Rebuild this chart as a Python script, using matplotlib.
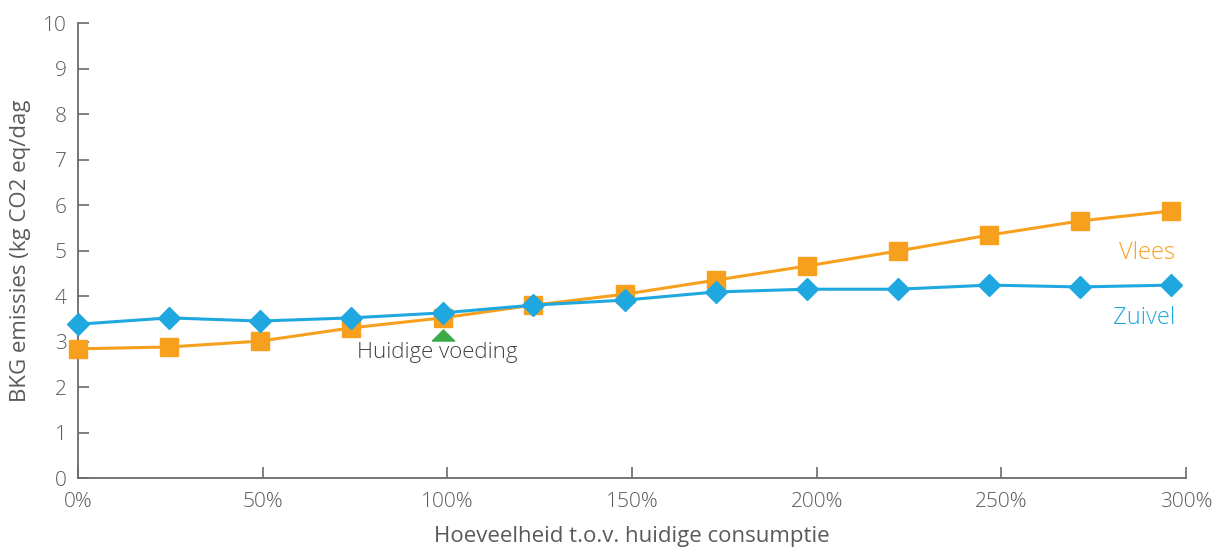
import numpy as np
import matplotlib
matplotlib.use("Agg")
import matplotlib.pyplot as plt

plt.rcParams['font.family'] = ['Open Sans', 'DejaVu Sans']
plt.rcParams['font.weight'] = 'light'

# hoeveelheid t.o.v. huidige consumptie (%)
hoeveelheid = [0, 24.7, 49.3, 74, 98.7, 123.3, 148, 172.7, 197.3, 222, 246.7, 271.3, 296]
vlees = [2.84, 2.88, 3.01, 3.30, 3.52, 3.80, 4.04, 4.35, 4.66, 4.99, 5.34, 5.65, 5.87]
zuivel = [3.38, 3.52, 3.45, 3.52, 3.63, 3.80, 3.91, 4.09, 4.15, 4.15, 4.24, 4.20, 4.24]
huidig_x = 98.7
huidig_y = 3.14

x_ticks = [0, 50, 100, 150, 200, 250, 300]
x_labels = ['0%', '50%', '100%', '150%', '200%', '250%', '300%']
y_ticks = list(range(11))

oranje = '#F7A01E'
blauw = '#1FA8E0'
grijs = '#5a5a5a'

# platte driehoek voor de huidige voeding
driehoek = [(-1, -0.5), (1, -0.5), (0, 0.5), (-1, -0.5)]

fig = plt.figure(figsize=(12.17, 5.49), dpi=100)
ax = fig.add_axes([0.0641, 0.1293, 0.9105, 0.8287])

ax.plot(hoeveelheid, vlees, color=oranje, lw=2.2, marker='s', ms=12.5,
        clip_on=False, zorder=3)
ax.plot(hoeveelheid, zuivel, color=blauw, lw=2.2, marker='D', ms=11,
        clip_on=False, zorder=4)
ax.plot([huidig_x], [huidig_y], marker=driehoek, ms=16, color='#3DAA48',
        ls='none', zorder=2)

ax.text(huidig_x - 1.5, huidig_y - 0.14, 'Huidige voeding', ha='center', va='top',
        fontsize=16, color='#444444')
ax.text(297, 5.22, 'Vlees', ha='right', va='top', fontsize=17, color=oranje)
ax.text(297, 3.78, 'Zuivel', ha='right', va='top', fontsize=17, color=blauw)

ax.set_xlim(0, 300)
ax.set_ylim(0, 10)
ax.set_xticks(x_ticks)
ax.set_xticklabels(x_labels)
ax.set_yticks(y_ticks)

for side in ['top', 'right']:
    ax.spines[side].set_visible(False)
for side in ['left', 'bottom']:
    ax.spines[side].set_color('#6b6b6b')
    ax.spines[side].set_linewidth(1.3)

ax.tick_params(direction='in', length=8, width=1.2, color='#6b6b6b',
               labelsize=15, labelcolor=grijs)
ax.tick_params(axis='x', pad=10)
ax.tick_params(axis='y', pad=8)

ax.set_xlabel('Hoeveelheid t.o.v. huidige consumptie', fontsize=16,
              color=grijs, labelpad=10)
ax.set_ylabel('BKG emissies (kg CO2 eq/dag', fontsize=16, color=grijs,
              labelpad=9)

fig.savefig('out.png', dpi=100)
